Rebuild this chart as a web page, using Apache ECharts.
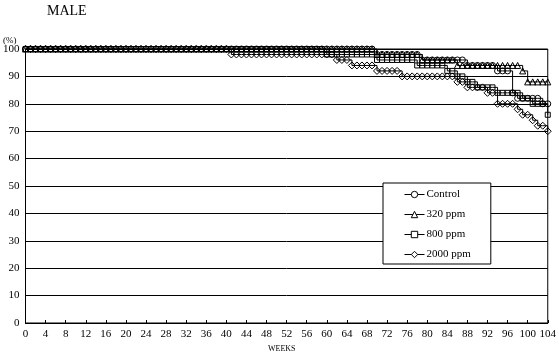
<!DOCTYPE html>
<html><head><meta charset="utf-8">
<script src="https://cdn.jsdelivr.net/npm/echarts@6/dist/echarts.min.js"></script>
<style>html,body{margin:0;padding:0;background:#fff}#c{width:559px;height:359px}</style>
</head><body><div id="c"></div>
<script>
var weeks = [0,1,2,3,4,5,6,7,8,9,10,11,12,13,14,15,16,17,18,19,20,21,22,23,24,25,26,27,28,29,30,31,32,33,34,35,36,37,38,39,40,41,42,43,44,45,46,47,48,49,50,51,52,53,54,55,56,57,58,59,60,61,62,63,64,65,66,67,68,69,70,71,72,73,74,75,76,77,78,79,80,81,82,83,84,85,86,87,88,89,90,91,92,93,94,95,96,97,98,99,100,101,102,103,104];
var yTicks = [0,10,20,30,40,50,60,70,80,90,100];
var seriesNames = ['Control','320 ppm','800 ppm','2000 ppm'];
var control = [
100,100,100,100,100,100,100,100,100,100,
100,100,100,100,100,100,100,100,100,100,
100,100,100,100,100,100,100,100,100,100,
100,100,100,100,100,100,100,100,100,100,
100,100,100,100,100,100,100,100,100,100,
100,100,100,100,100,100,100,100,100,100,
100,100,100,100,100,100,100,100,100,100,
98,98,98,98,98,98,98,98,98,96,
96,96,96,96,96,96,96,96,94,94,
94,94,94,94,92,92,92,84,82,82,
82,82,82,80,80];
var ppm320 = [
100,100,100,100,100,100,100,100,100,100,
100,100,100,100,100,100,100,100,100,100,
100,100,100,100,100,100,100,100,100,100,
100,100,100,100,100,100,100,100,100,100,
100,100,100,100,100,100,100,100,100,100,
100,100,100,100,100,100,100,100,100,100,
100,100,100,100,100,100,100,100,100,100,
98,98,98,98,98,98,98,98,98,96,
96,96,96,96,96,96,94,94,94,94,
94,94,94,94,94,94,94,94,94,92,
88,88,88,88,88];
var ppm800 = [
100,100,100,100,100,100,100,100,100,100,
100,100,100,100,100,100,100,100,100,100,
100,100,100,100,100,100,100,100,100,100,
100,100,100,100,100,100,100,100,100,100,
100,100,100,100,100,100,100,100,100,100,
100,100,100,100,100,100,100,100,100,100,
98,98,98,98,98,98,98,98,98,98,
96,96,96,96,96,96,96,96,94,94,
94,94,94,94,92,92,90,90,88,88,
86,86,86,86,84,84,84,84,84,82,
82,80,80,80,76];
var ppm2000 = [
100,100,100,100,100,100,100,100,100,100,
100,100,100,100,100,100,100,100,100,100,
100,100,100,100,100,100,100,100,100,100,
100,100,100,100,100,100,100,100,100,100,
100,98,98,98,98,98,98,98,98,98,
98,98,98,98,98,98,98,98,98,98,
98,98,96,96,96,94,94,94,94,94,
92,92,92,92,92,90,90,90,90,90,
90,90,90,90,90,90,88,88,86,86,
86,86,84,84,80,80,80,80,78,76,
76,74,72,72,70];

var FONT = 'Liberation Serif';
function mk(name, data, symbol, size, z) {
  return {
    name: name, type: 'line', data: data, step: 'end', z: z,
    symbol: symbol, symbolSize: size, showAllSymbol: true,
    lineStyle: {color: '#000', width: 1},
    itemStyle: {color: 'rgba(255,255,255,0)', borderColor: '#000', borderWidth: 1},
    emphasis: {disabled: true}, animation: false
  };
}
var chart = echarts.init(document.getElementById('c'), null, {renderer: 'canvas'});
chart.setOption({
  animation: false,
  backgroundColor: '#fff',
  title: {text: 'MALE', left: 42, top: -1, textStyle: {fontFamily: FONT, fontSize: 14, fontWeight: 'normal', color: '#000'}},
  grid: {left: 22, right: 10, top: 49, bottom: 36, show: true, borderColor: '#000', borderWidth: 1, backgroundColor: 'transparent'},
  legend: {
    orient: 'vertical', left: 383, top: 183,
    backgroundColor: '#fff', borderColor: '#000', borderWidth: 1,
    padding: [6, 20, 4, 21], itemGap: 9, itemWidth: 20, itemHeight: 8,
    itemStyle: {color: '#fff', borderColor: '#000', borderWidth: 1},
    lineStyle: {color: '#000', width: 1},
    data: seriesNames,
    textStyle: {fontFamily: FONT, fontSize: 11, color: '#000', padding: [0, 0, 0, -3]},
    selectedMode: false, z: 10
  },
  xAxis: {
    type: 'category', data: weeks, boundaryGap: false,
    axisLine: {lineStyle: {color: '#000', width: 1}},
    axisTick: {inside: true, length: 3, interval: 3, lineStyle: {color: '#000'}},
    axisLabel: {interval: 3, color: '#000', fontFamily: FONT, fontSize: 11, margin: 6},
    splitLine: {show: false}
  },
  yAxis: {
    type: 'value', min: yTicks[0], max: yTicks[yTicks.length-1], interval: 10,
    axisLine: {show: true, lineStyle: {color: '#000', width: 1}},
    axisTick: {show: false},
    axisLabel: {color: '#000', fontFamily: FONT, fontSize: 11, margin: 6},
    splitLine: {show: true, lineStyle: {color: '#000', width: 1}}
  },
  graphic: [
    {type: 'text', left: 3, top: 36, style: {text: '(%)', fontFamily: FONT, fontSize: 9, fill: '#000'}},
    {type: 'text', left: 268, top: 345, style: {text: 'WEEKS', fontFamily: FONT, fontSize: 8, fill: '#000'}}
  ],
  series: [
    mk(seriesNames[0], control, 'circle', 6, 5),
    mk(seriesNames[1], ppm320, 'triangle', 6, 4),
    mk(seriesNames[2], ppm800, 'rect', 5, 3),
    mk(seriesNames[3], ppm2000, 'diamond', 7, 2)
  ]
});
</script></body></html>
